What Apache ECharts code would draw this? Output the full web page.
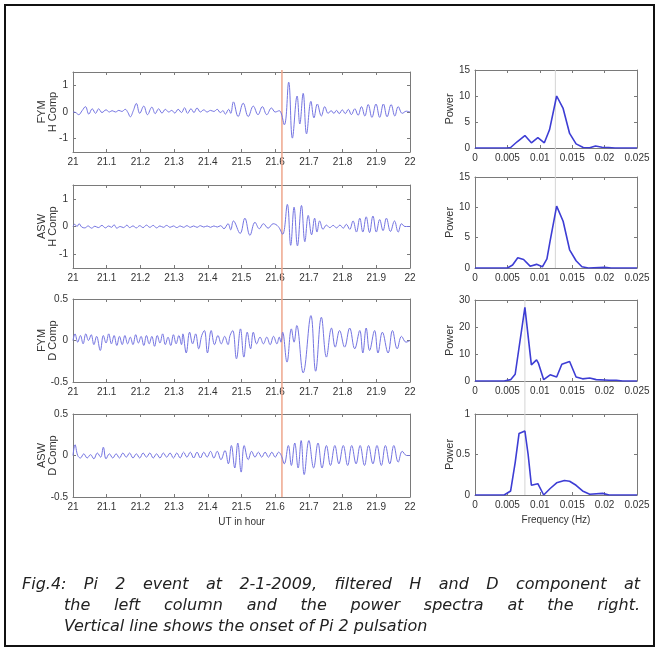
<!DOCTYPE html>
<html>
<head>
<meta charset="utf-8">
<script src="https://cdn.jsdelivr.net/npm/echarts@6.0.0/dist/echarts.min.js"></script>
<style>
html, body { margin: 0; padding: 0; background: #fff; }
#chart { width: 660px; height: 653px; }
</style>
</head>
<body>
<div id="chart"></div>
<script>
// filtered components, [UT hour, value] read at the peaks and troughs
const fymH = [[21.0,0],[21.008,-0.02],[21.017,-0.1],[21.027,0.05],[21.037,0.2],[21.047,-0.08],[21.057,0.12],[21.067,-0.05],[21.076,0.12],[21.086,-0.02],[21.098,0.08],[21.108,0],[21.116,0.05],[21.126,0],[21.136,0.06],[21.145,0.02],[21.155,0.1],[21.163,-0.02],[21.170,-0.18],[21.179,0.05],[21.188,0.32],[21.198,-0.05],[21.210,0.22],[21.221,-0.1],[21.234,0.18],[21.244,-0.06],[21.254,0.12],[21.264,-0.04],[21.274,0.1],[21.284,0],[21.293,0.06],[21.302,-0.04],[21.312,0.1],[21.322,-0.02],[21.331,0.16],[21.340,-0.05],[21.350,0.12],[21.359,-0.02],[21.368,0.15],[21.378,0],[21.388,0.08],[21.398,0],[21.408,0.06],[21.418,0.02],[21.428,0.1],[21.437,-0.02],[21.445,0.05],[21.452,-0.08],[21.462,0.1],[21.468,-0.05],[21.476,0.38],[21.490,-0.17],[21.505,0.33],[21.520,-0.17],[21.535,0.22],[21.549,-0.1],[21.562,0.2],[21.575,-0.1],[21.589,0.15],[21.600,0],[21.612,0.05],[21.627,-0.48],[21.640,1.12],[21.651,-0.98],[21.665,0.6],[21.673,-0.45],[21.683,0.7],[21.693,-0.82],[21.706,0.4],[21.715,-0.22],[21.725,0.3],[21.737,-0.15],[21.747,0.2],[21.757,-0.05],[21.766,0.05],[21.774,-0.05],[21.782,0.06],[21.790,-0.06],[21.799,0.08],[21.808,-0.06],[21.817,0.1],[21.826,-0.1],[21.836,0.12],[21.846,-0.12],[21.856,0.2],[21.866,-0.15],[21.876,0.28],[21.887,-0.2],[21.899,0.3],[21.910,-0.2],[21.921,0.3],[21.932,-0.18],[21.944,0.28],[21.955,-0.15],[21.965,0.2],[21.977,-0.05],[21.989,0.03],[22.0,0]];
const aswH = [[21.0,0],[21.005,0.08],[21.012,0],[21.018,0.1],[21.026,-0.02],[21.035,-0.05],[21.045,0.02],[21.055,-0.06],[21.065,0.01],[21.075,-0.04],[21.086,0.04],[21.096,-0.05],[21.106,0.02],[21.114,-0.03],[21.122,0.06],[21.130,-0.06],[21.140,0],[21.150,-0.04],[21.160,0.05],[21.168,-0.04],[21.178,0.02],[21.188,-0.05],[21.198,0.03],[21.208,-0.04],[21.218,0.05],[21.228,-0.03],[21.238,0.04],[21.248,-0.05],[21.258,0.02],[21.268,-0.03],[21.278,0.04],[21.288,-0.03],[21.298,0.02],[21.308,-0.04],[21.318,0.02],[21.328,-0.03],[21.338,0.03],[21.348,-0.03],[21.358,0.02],[21.368,-0.03],[21.378,0.03],[21.388,-0.02],[21.398,0.02],[21.408,-0.03],[21.418,0.02],[21.428,-0.02],[21.438,0.03],[21.448,-0.08],[21.460,0.1],[21.468,-0.12],[21.476,0.2],[21.496,-0.25],[21.510,0.3],[21.525,-0.32],[21.540,0.15],[21.553,-0.08],[21.565,0.1],[21.579,-0.06],[21.594,0.1],[21.609,0],[21.622,-0.28],[21.636,0.8],[21.646,-0.68],[21.656,0.7],[21.666,-0.7],[21.678,0.76],[21.688,-0.55],[21.698,0.4],[21.708,-0.3],[21.717,0.3],[21.724,-0.2],[21.732,0.2],[21.742,-0.1],[21.752,0.05],[21.762,-0.04],[21.772,0.04],[21.782,-0.05],[21.792,0.05],[21.802,-0.06],[21.811,0.08],[21.821,-0.1],[21.831,0.2],[21.841,-0.2],[21.851,0.3],[21.860,-0.2],[21.870,0.35],[21.880,-0.22],[21.890,0.38],[21.900,-0.2],[21.910,0.25],[21.920,-0.15],[21.930,0.3],[21.942,-0.18],[21.954,0.2],[21.965,-0.2],[21.975,0.1],[21.985,0],[22.0,0]];
const fymD = [[21.0,0],[21.006,0.08],[21.014,-0.02],[21.022,0.06],[21.030,-0.04],[21.038,0.08],[21.046,0],[21.054,0.07],[21.062,-0.05],[21.070,0.05],[21.081,-0.12],[21.090,0.06],[21.098,-0.03],[21.106,0.08],[21.114,-0.04],[21.122,0.06],[21.130,-0.06],[21.138,0.05],[21.146,-0.05],[21.154,0.06],[21.162,-0.04],[21.170,0.04],[21.178,-0.05],[21.186,0.07],[21.194,-0.03],[21.202,0.05],[21.210,-0.06],[21.218,0.06],[21.226,-0.04],[21.234,0.05],[21.242,-0.07],[21.250,0.06],[21.258,-0.03],[21.266,0.08],[21.274,-0.05],[21.282,0.04],[21.290,-0.06],[21.298,0.07],[21.306,-0.04],[21.314,0.06],[21.322,-0.05],[21.326,0.08],[21.336,-0.15],[21.346,0.1],[21.355,-0.04],[21.364,0.08],[21.373,-0.1],[21.382,0.06],[21.390,0.12],[21.399,-0.15],[21.410,0.12],[21.420,-0.05],[21.430,0.06],[21.440,-0.04],[21.450,0.05],[21.460,-0.05],[21.466,0.06],[21.474,0.12],[21.485,-0.22],[21.497,0.14],[21.507,-0.2],[21.517,0.1],[21.527,-0.1],[21.535,0.1],[21.545,-0.04],[21.555,0.04],[21.565,-0.04],[21.575,0.04],[21.585,-0.05],[21.595,0.05],[21.605,-0.04],[21.612,0.04],[21.617,-0.02],[21.622,0.1],[21.635,-0.26],[21.648,0.14],[21.656,-0.02],[21.664,0.18],[21.683,-0.39],[21.706,0.3],[21.720,-0.37],[21.737,0.28],[21.752,-0.2],[21.767,0.15],[21.778,-0.08],[21.791,0.12],[21.806,-0.08],[21.821,0.15],[21.836,-0.1],[21.851,0.12],[21.860,-0.15],[21.870,0.15],[21.880,-0.12],[21.895,0.12],[21.905,-0.15],[21.918,0.1],[21.935,-0.15],[21.948,0.12],[21.962,-0.1],[21.975,0.05],[21.988,-0.02],[22.0,0]];
const aswD = [[21.0,0],[21.006,0.13],[21.014,0],[21.022,-0.03],[21.032,0.02],[21.042,-0.03],[21.052,0.01],[21.062,-0.04],[21.072,0.03],[21.082,-0.02],[21.090,0.1],[21.098,-0.04],[21.108,0.02],[21.118,-0.03],[21.128,0.02],[21.138,-0.03],[21.148,0.03],[21.158,-0.02],[21.168,0.03],[21.178,-0.03],[21.188,0.02],[21.198,-0.03],[21.208,0.03],[21.218,-0.02],[21.228,0.03],[21.238,-0.03],[21.248,0.02],[21.258,-0.03],[21.268,0.03],[21.278,-0.02],[21.288,0.03],[21.298,-0.03],[21.308,0.03],[21.318,-0.03],[21.328,0.04],[21.338,-0.02],[21.348,0.04],[21.358,-0.03],[21.368,0.04],[21.378,-0.03],[21.388,0.04],[21.398,-0.02],[21.408,0.05],[21.418,-0.03],[21.428,0.05],[21.439,-0.05],[21.451,0.06],[21.461,-0.1],[21.470,0.12],[21.480,-0.15],[21.489,0.15],[21.499,-0.2],[21.508,0.12],[21.520,-0.05],[21.530,0.05],[21.540,-0.02],[21.550,0.04],[21.560,-0.02],[21.570,0.04],[21.580,-0.02],[21.590,0.04],[21.600,-0.02],[21.610,0.04],[21.618,0],[21.627,-0.1],[21.639,0.12],[21.648,-0.12],[21.658,0.15],[21.668,-0.15],[21.677,0.18],[21.686,-0.23],[21.700,0.18],[21.714,-0.15],[21.727,0.15],[21.739,-0.15],[21.752,0.12],[21.764,-0.12],[21.777,0.12],[21.789,-0.1],[21.802,0.12],[21.815,-0.12],[21.827,0.12],[21.840,-0.1],[21.852,0.12],[21.865,-0.12],[21.877,0.12],[21.890,-0.1],[21.902,0.12],[21.915,-0.12],[21.927,0.12],[21.940,-0.1],[21.952,0.12],[21.965,-0.08],[21.977,0.05],[21.990,0],[22.0,0]];

// power spectra, [frequency Hz, power]
const fymHPower = [[0,0],[0.005,0],[0.0055,0.1],[0.0065,1.2],[0.0077,2.4],[0.0087,1.0],[0.0097,2.0],[0.0107,1.0],[0.0115,3.5],[0.0126,10],[0.0136,7.6],[0.0146,2.8],[0.0156,0.8],[0.0167,0.1],[0.0177,0.05],[0.0186,0.4],[0.0196,0.15],[0.0206,0.1],[0.0216,0],[0.025,0]];
const aswHPower = [[0,0],[0.005,0],[0.0058,0.5],[0.0066,1.7],[0.0075,1.4],[0.0085,0.3],[0.0095,0.6],[0.0104,0.2],[0.0111,1.5],[0.0116,4.5],[0.0126,10.2],[0.0136,7.7],[0.0146,3.0],[0.0156,1.2],[0.0165,0.2],[0.0175,0],[0.02,0.1],[0.021,0],[0.025,0]];
const fymDPower = [[0,0],[0.0045,0],[0.0055,0.5],[0.0062,2.5],[0.0077,27.3],[0.0087,6],[0.0095,7.8],[0.0098,6.5],[0.0106,0.5],[0.0116,2.3],[0.0126,1.5],[0.0134,6.2],[0.0146,7.2],[0.0156,1.5],[0.0166,0.8],[0.0177,1.1],[0.0187,0.5],[0.0207,0.3],[0.0218,0.3],[0.0228,0],[0.025,0]];
const aswDPower = [[0,0],[0.0045,0],[0.0055,0.05],[0.0062,0.4],[0.0068,0.76],[0.0077,0.79],[0.0082,0.5],[0.0087,0.12],[0.0097,0.14],[0.0106,0],[0.0116,0.08],[0.0126,0.15],[0.0138,0.18],[0.0146,0.17],[0.0156,0.12],[0.0166,0.05],[0.0177,0.01],[0.0197,0.02],[0.0207,0],[0.025,0]];

const onsetUT = 21.62;
const peakFreqH = 0.0124;
const peakFreqD = 0.0077;

const panelNames = ['FYM\nH Comp', 'ASW\nH Comp', 'FYM\nD Comp', 'ASW\nD Comp'];
const ampTicks = [[-1, 0, 1], [-1, 0, 1], [-0.5, 0, 0.5], [-0.5, 0, 0.5]];
const ampMax = [1.5, 1.5, 0.5, 0.5];
const powerTicks = [[0, 5, 10, 15], [0, 5, 10, 15], [0, 10, 20, 30], [0, 0.5, 1]];
const captionLines = [
  'Fig.4: Pi 2 event at 2-1-2009, filtered H and D component at',
  'the left column and the power spectra at the right.',
  'Vertical line shows the onset of Pi 2 pulsation'
];

const timeSeries = [fymH, aswH, fymD, aswD];
const spectra = [fymHPower, aswHPower, fymDPower, aswDPower];

const chart = echarts.init(document.getElementById('chart'));
const AX = '#7a7a7a', TXT = '#333';
const FONT = 'Liberation Sans';

const leftBoxes = [[72, 80], [185, 83], [299, 83], [414, 83]];
const rightBoxes = [[70, 78], [177, 91], [300, 81], [414, 81]];

const grids = [], xAxes = [], yAxes = [], series = [];

function addPanel(box, x, y, data, line) {
  const gi = grids.length;
  grids.push({ left: box.left, top: box.top, width: box.width, height: box.height });
  const tick = { show: true, inside: true, length: 3, lineStyle: { color: AX } };
  const axLine = { show: true, onZero: false, lineStyle: { color: AX, width: 1 } };
  const lbl = { color: TXT, fontSize: 10, fontFamily: FONT, hideOverlap: false };
  const xi = xAxes.length, yi = yAxes.length;
  xAxes.push({
    gridIndex: gi, type: 'value', position: 'bottom', min: x.min, max: x.max, interval: x.interval,
    axisLine: axLine, axisTick: tick, splitLine: { show: false },
    axisLabel: Object.assign({ margin: 5, formatter: x.fmt, showMinLabel: true, showMaxLabel: true }, lbl),
    name: x.name || '', nameLocation: 'middle', nameGap: 20, nameMoveOverlap: false,
    nameTextStyle: { color: TXT, fontSize: 10, fontFamily: FONT }
  });
  xAxes.push({
    gridIndex: gi, type: 'value', position: 'top', min: x.min, max: x.max, interval: x.interval,
    axisLine: axLine, axisTick: tick, axisLabel: { show: false }, splitLine: { show: false }
  });
  yAxes.push({
    gridIndex: gi, type: 'value', position: 'left', min: y.min, max: y.max,
    axisLine: axLine, axisTick: Object.assign({ customValues: y.ticks }, tick), splitLine: { show: false },
    axisLabel: Object.assign({ margin: 5, customValues: y.ticks, formatter: v => String(v) }, lbl),
    name: y.name, nameLocation: 'middle', nameRotate: 90, nameGap: y.gap, nameMoveOverlap: false,
    nameTextStyle: { color: TXT, fontSize: 11, fontFamily: FONT, lineHeight: 11 }
  });
  yAxes.push({
    gridIndex: gi, type: 'value', position: 'right', min: y.min, max: y.max,
    axisLine: axLine, axisTick: Object.assign({ customValues: y.ticks }, tick),
    axisLabel: { show: false }, splitLine: { show: false }
  });
  series.push({
    type: 'line', xAxisIndex: xi, yAxisIndex: yi, data: data, showSymbol: false,
    smooth: line.smooth, lineStyle: { color: line.color, width: line.width },
    silent: true, animation: false, clip: true
  });
}

for (let i = 0; i < 4; i++) {
  addPanel(
    { left: 73, top: leftBoxes[i][0], width: 337, height: leftBoxes[i][1] },
    { min: 21, max: 22, interval: 0.1, fmt: v => String(+v.toFixed(1)), name: i === 3 ? 'UT in hour' : '' },
    { min: -ampMax[i], max: ampMax[i], ticks: ampTicks[i], name: panelNames[i], gap: 15 },
    timeSeries[i],
    { color: '#7474e2', width: 1, smooth: 0.4 }
  );
}
for (let i = 0; i < 4; i++) {
  const pt = powerTicks[i];
  addPanel(
    { left: 475, top: rightBoxes[i][0], width: 162, height: rightBoxes[i][1] },
    { min: 0, max: 0.025, interval: 0.005, fmt: v => String(+v.toFixed(3)), name: i === 3 ? 'Frequency (Hz)' : '' },
    { min: 0, max: pt[pt.length - 1], ticks: pt, name: 'Power', gap: 20 },
    spectra[i],
    { color: '#3d3dd4', width: 1.6, smooth: false }
  );
}

chart.setOption({
  animation: false,
  backgroundColor: '#fff',
  grid: grids,
  xAxis: xAxes,
  yAxis: yAxes,
  series: series
});

// guide lines through the panels, placed with the axes' own scales
const onsetX = chart.convertToPixel({ xAxisIndex: 0 }, onsetUT);
const fhX = chart.convertToPixel({ xAxisIndex: 8 }, peakFreqH);
const fdX = chart.convertToPixel({ xAxisIndex: 12 }, peakFreqD);

// caption, first two lines justified like the printed figure
const CAP_FONT = 'italic 16px "DejaVu Sans"';
const ctx = document.createElement('canvas').getContext('2d');
ctx.font = CAP_FONT;
function justified(text, x0, x1, y) {
  const words = text.split(' ');
  const widths = words.map(w => ctx.measureText(w).width);
  const gap = (x1 - x0 - widths.reduce((a, b) => a + b, 0)) / (words.length - 1);
  const out = [];
  let x = x0;
  words.forEach((w, k) => {
    out.push({ type: 'text', x: x, y: y, style: { text: w, font: CAP_FONT, fill: '#222', textVerticalAlign: 'middle' } });
    x += widths[k] + gap;
  });
  return out;
}

const graphics = [
  { type: 'rect', shape: { x: 5, y: 5, width: 649, height: 641 }, style: { fill: 'none', stroke: '#111', lineWidth: 2 } },
  { type: 'line', z: 1, shape: { x1: onsetX, y1: 70, x2: onsetX, y2: 497 }, style: { stroke: '#eea68c', lineWidth: 1.5 } },
  { type: 'line', z: 1, shape: { x1: fhX, y1: 70, x2: fhX, y2: 268 }, style: { stroke: '#d4d4d4', lineWidth: 1 } },
  { type: 'line', z: 1, shape: { x1: fdX, y1: 300, x2: fdX, y2: 495 }, style: { stroke: '#d4d4d4', lineWidth: 1 } }
]
  .concat(justified(captionLines[0], 22, 640, 585))
  .concat(justified(captionLines[1], 64, 640, 606))
  .concat([{ type: 'text', x: 64, y: 627, style: { text: captionLines[2], font: CAP_FONT, fill: '#222', textVerticalAlign: 'middle' } }]);

chart.setOption({ graphic: graphics });
</script>
</body>
</html>
